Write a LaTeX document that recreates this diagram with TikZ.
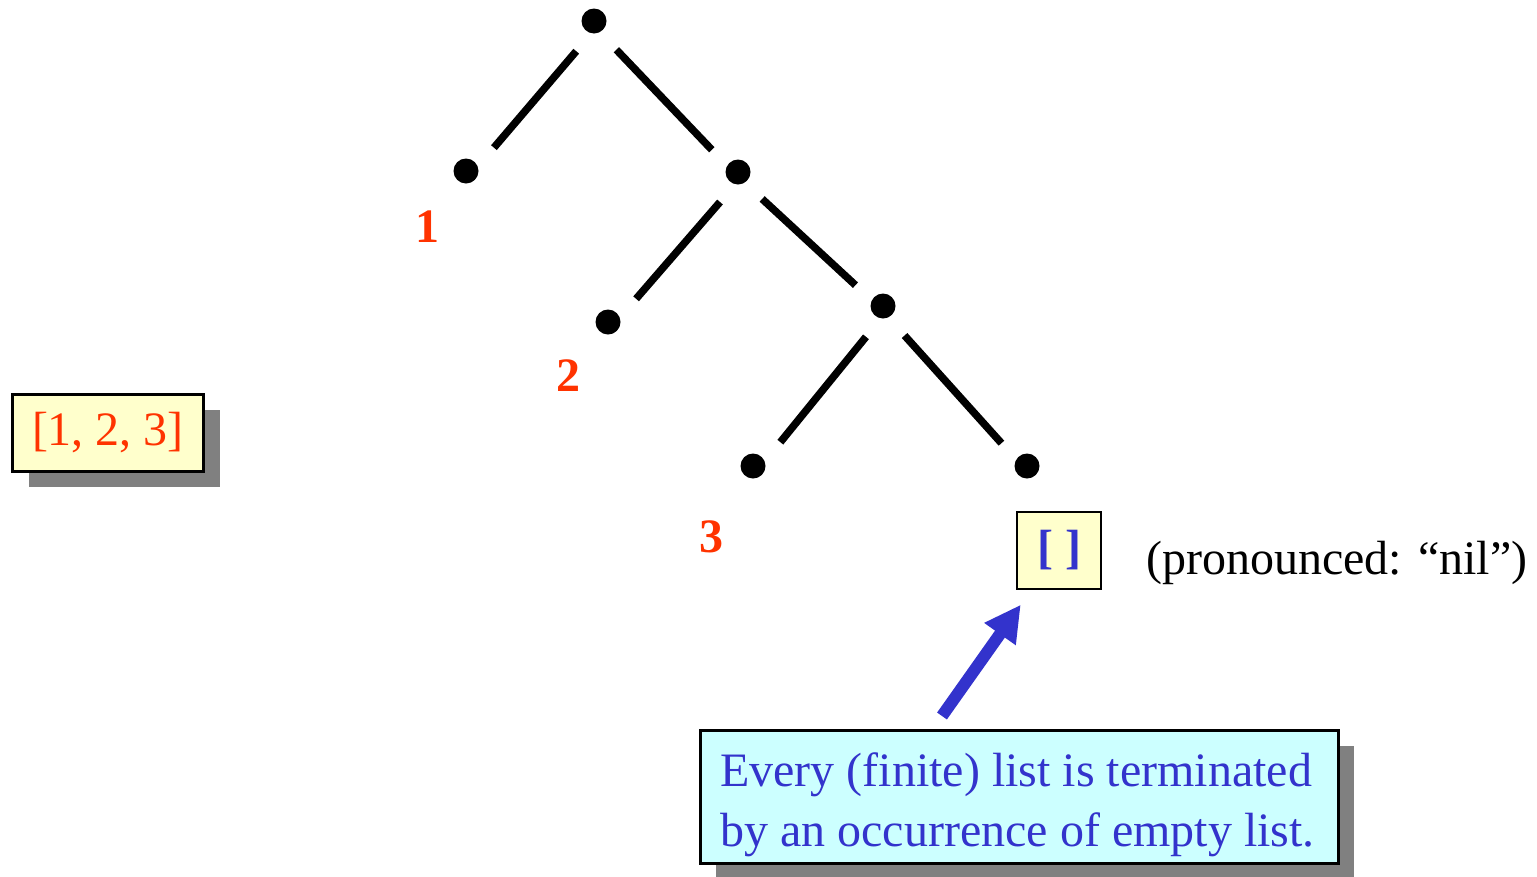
\documentclass[tikz,border=0pt]{standalone}
\usepackage{fontspec}
\setmainfont{Liberation Serif}
\usetikzlibrary{arrows.meta,shadows}
\definecolor{lred}{HTML}{FF3300}
\definecolor{lblue}{HTML}{3333CC}
\definecolor{lyellow}{HTML}{FFFFCC}
\definecolor{lcyan}{HTML}{CCFFFF}
\definecolor{lshadow}{HTML}{808080}
\begin{document}
\begin{tikzpicture}[x=1pt,y=-1pt,
  big/.style={font=\fontsize{48}{60}\selectfont},
  dot/.style={circle,fill=black,inner sep=0pt,minimum size=25pt},
  branch/.style={line width=7.5pt,shorten <=27pt,shorten >=18pt},
  lbranch/.style={branch,transform canvas={xshift=8pt}},
  rbranch/.style={branch,transform canvas={xshift=-5pt}},
  num/.style={big,font=\fontsize{48}{60}\selectfont\bfseries,text=lred,inner sep=0pt,anchor=base},
  shade/.style={drop shadow={shadow xshift=16pt,shadow yshift=-16pt,fill=lshadow,opacity=1}},
  yellowbox/.style={draw=black,fill=lyellow,inner sep=0pt},
  callbox/.style={draw=black,line width=3pt,fill=lcyan,inner sep=0pt,minimum width=638pt,minimum height=133pt},
  bluearrow/.style={draw=lblue,line width=12pt,-{Triangle[length=36pt,width=36pt]},shorten >=18pt}
]
\useasboundingbox (0,0) rectangle (1537,876);

% tree nodes
\node[dot] (r)  at (594,21)  {};
\node[dot] (a1) at (466,171) {};
\node[dot] (b)  at (738,172) {};
\node[dot] (a2) at (608,322) {};
\node[dot] (c)  at (883,306) {};
\node[dot] (a3) at (753,466) {};
\node[dot] (nilpt) at (1027,466) {};

\draw[lbranch] (r) -- (a1);
\draw[rbranch] (r) -- (b);
\draw[lbranch] (b) -- (a2);
\draw[rbranch] (b) -- (c);
\draw[lbranch] (c) -- (a3);
\draw[rbranch] (c) -- (nilpt);

% element labels
\node[num] (l1) at (427,242) {1};
\node[num] (l2) at (568,391) {2};
\node[num] (l3) at (711,552) {3};

% list box
\node[yellowbox,shade,line width=3pt,minimum width=191pt,minimum height=77pt,big,text=lred] (list) at (108,432.5) {[1, 2, 3]};

% nil box
\node[yellowbox,line width=2pt,minimum width=84pt,minimum height=77pt,big,text=lblue,font=\fontsize{48}{60}\selectfont\bfseries] (nil) at (1059,550.5) {[ ]};
\node[big,inner sep=0pt,anchor=base west] (pron) at (1146,574) {(pronounced: “nil”)};

% callout
\node[callbox,shade] (callout) at (1019,796.5) {};
\node[big,text=lblue,align=left,inner sep=0pt,anchor=north west] (calltext) at (720,752) {Every (finite) list is terminated\\by an occurrence of empty list.};

\coordinate (tail) at (942,716);
\draw[bluearrow] (tail) -- (nil);
\end{tikzpicture}
\end{document}
